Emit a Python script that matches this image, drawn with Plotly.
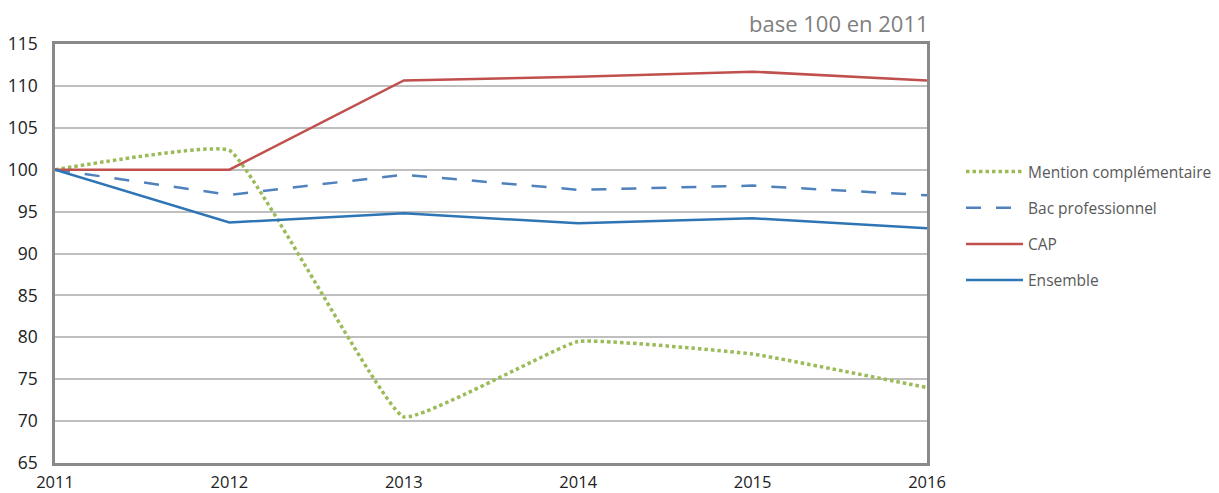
import plotly.graph_objects as go

years = [2011, 2012, 2013, 2014, 2015, 2016]
mention = [100, 102.3, 70.5, 79.5, 78.0, 74.0]
bac_pro = [100, 97.0, 99.4, 97.6, 98.1, 96.95]
cap = [100, 100, 110.65, 111.1, 111.7, 110.65]
ensemble = [100, 93.7, 94.8, 93.6, 94.2, 93.0]
y_ticks = [65, 70, 75, 80, 85, 90, 95, 100, 105, 110, 115]

fig = go.Figure()
fig.add_trace(go.Scatter(x=years, y=mention, name="Mention complémentaire", mode="lines",
                         line=dict(color="#9BBB59", width=3.5, dash="3.5px,3px", shape="spline", smoothing=0.3),
                         legendgroup="a"))
fig.add_trace(go.Scatter(x=years, y=bac_pro, name="Bac professionnel", mode="lines",
                         line=dict(color="#4F81BD", width=2.5, dash="15px,15px"), legendgroup="b"))
fig.add_trace(go.Scatter(x=years, y=cap, name="CAP", mode="lines",
                         line=dict(color="#C0504D", width=2.5), legendgroup="c"))
fig.add_trace(go.Scatter(x=years, y=ensemble, name="Ensemble", mode="lines",
                         line=dict(color="#2E75B6", width=2.5), legendgroup="d"))

font = "Open Sans"
fig.update_layout(
    width=1211, height=493,
    margin=dict(l=47, r=292, t=36, b=38, autoexpand=False),
    plot_bgcolor="white", paper_bgcolor="white",
    font=dict(family=font, color="#222222", size=16),
    showlegend=True,
    legend=dict(x=1.039, y=0.735, xanchor="left", yanchor="top",
                font=dict(family=font, size=15.5, color="#595959"),
                itemwidth=57,
                tracegroupgap=13, bgcolor="rgba(0,0,0,0)"),
    annotations=[dict(text="base 100 en 2011", xref="paper", yref="paper", x=1.0, y=1.0,
                      xanchor="right", yanchor="bottom", yshift=4, xshift=4, showarrow=False,
                      font=dict(family=font, size=22, color="#7F7F7F"))],
)
fig.update_xaxes(range=[2011, 2016], tickvals=years, ticktext=[str(y) for y in years],
                 showgrid=False, showline=True, linecolor="#898989", linewidth=2.5, mirror=True,
                 ticks="", ticklabelstandoff=2, tickfont=dict(size=16.5, color="#222222"),
                 zeroline=False, automargin=False)
fig.update_yaxes(range=[65, 115], tickvals=y_ticks, showgrid=True, gridcolor="#BFBFBF", gridwidth=1.5,
                 showline=True, linecolor="#898989", linewidth=2.5, mirror=True,
                 ticks="", ticklabelstandoff=11, tickfont=dict(size=17.5, color="#222222"),
                 zeroline=False, automargin=False)

fig.write_html("out.html")
